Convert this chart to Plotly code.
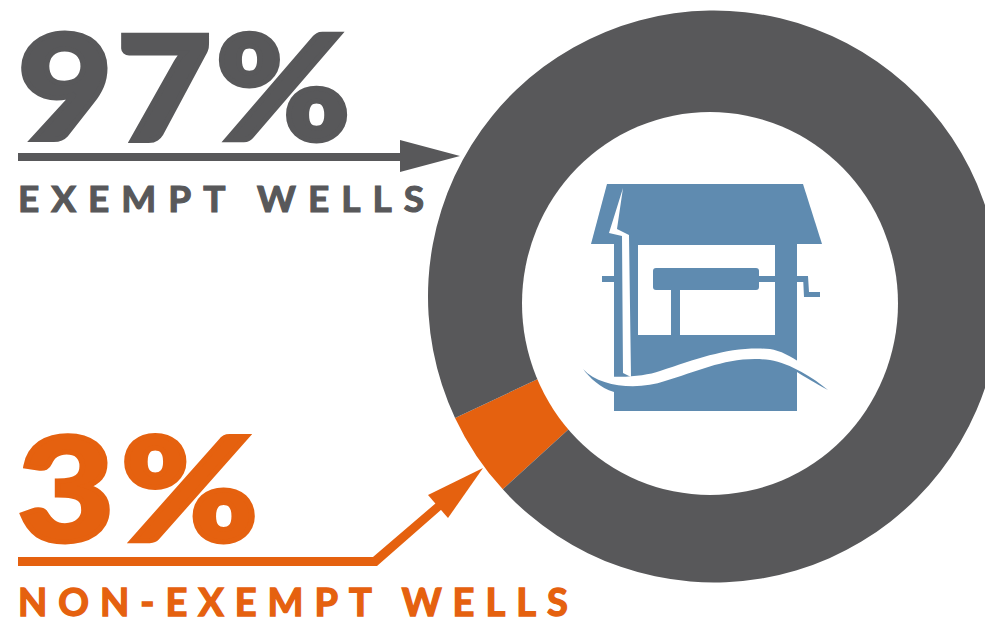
import plotly.graph_objects as go

# Drawn slice shares as measured on the picture (the printed labels say 97 / 3)
slice_names = ["Non-exempt wells", "Exempt wells"]
slice_values = [4.8, 95.2]
slice_colors = ["#E5610F", "#58585A"]
big_labels = ["97%", "3%"]
small_labels = ["EXEMPT WELLS", "NON-EXEMPT WELLS"]
GREY, ORANGE, BLUE = "#58585A", "#E5610F", "#5F8BB0"

W, H = 1004, 622
def px(x): return x / W
def py(y): return 1 - y / H

def path(*cmds):
    out = []
    for c in cmds:
        if isinstance(c, str):
            out.append(c)
        else:
            out.append(f"{px(c[0]):.5f},{py(c[1]):.5f}")
    return " ".join(out)

def shape(p, color):
    return dict(type="path", xref="paper", yref="paper", path=p, fillcolor=color,
                line=dict(width=0), layer="above")

def poly(pts, color):
    cmds = ["M", pts[0]]
    for q in pts[1:]:
        cmds += ["L", q]
    cmds.append("Z")
    return shape(path(*cmds), color)

def rect(x0, y0, x1, y1, color):
    return poly([(x0, y0), (x1, y0), (x1, y1), (x0, y1)], color)

fig = go.Figure(go.Pie(
    labels=slice_names, values=slice_values, sort=False, direction="clockwise",
    rotation=227.6, hole=0.6, marker=dict(colors=slice_colors, line=dict(width=0)),
    textinfo="none", hoverinfo="label", showlegend=False,
    domain=dict(x=[428 / W, 1000 / W], y=[py(583), py(10)]),
))

shapes = [
    # white centre (slightly off-centre in the reference)
    dict(type="circle", xref="paper", yref="paper", x0=px(522), x1=px(898),
         y0=py(495), y1=py(112), fillcolor="white", line=dict(width=0), layer="above"),
    # roof and body
    poly([(607, 184), (803, 184), (822, 244), (591, 244)], BLUE),
    rect(614, 244, 797, 411, BLUE),
    rect(638, 245, 775, 335, "white"),
    rect(671, 288, 680, 336, BLUE),
    # axle and crank
    rect(602, 276, 638, 282, BLUE),
    rect(759, 276, 808, 282, BLUE),
    poly([(803, 276), (808, 276), (809, 292), (820, 292), (820, 297), (804, 297)], BLUE),
    # roller with rounded corners
    shape(path("M", (656, 268), "L", (756, 268), "Q", (759, 268), (759, 271), "L", (759, 287),
               "Q", (759, 290), (756, 290), "L", (656, 290), "Q", (653, 290), (653, 287),
               "L", (653, 271), "Q", (653, 268), (656, 268), "Z"), BLUE),
    # lightning-shaped slit
    poly([(623, 188), (609, 233), (622, 236), (623, 373), (631, 377), (629, 235), (617, 229)], "white"),
    # white wave band
    shape(path("M", (583, 369), "C", (600, 380), (640, 378), (660, 371), "C", (700, 358), (730, 346), (770, 349),
               "C", (790, 352), (815, 372), (828, 390), "L", (745, 385),
               "L", (614, 392), "C", (600, 390), (590, 380), (583, 369), "Z"), "white"),
    # lower wave tail
    shape(path("M", (583, 369), "C", (600, 388), (640, 390), (665, 381), "C", (700, 371), (730, 355), (770, 360),
               "C", (790, 363), (815, 379), (828, 390), "C", (815, 383), (805, 377), (797, 372),
               "L", (797, 411), "L", (614, 411), "L", (614, 392), "C", (600, 388), (590, 378), (583, 369), "Z"), BLUE),
    # grey arrow
    rect(18, 153, 405, 161, GREY),
    poly([(400, 140), (460, 156), (400, 172)], GREY),
    # orange arrow
    shape(path("M", (18, 557), "L", (373, 557), "L", (436, 503), "L", (442, 509), "L", (377, 566), "L", (18, 566), "Z"), ORANGE),
    poly([(428, 495), (483, 468), (448, 518)], ORANGE),
]

def text(x, y, s, size, color, weight):
    return dict(x=px(x), y=py(y), xref="paper", yref="paper", text=s, showarrow=False,
                xanchor="left", yanchor="middle", align="left",
                font=dict(family="Lato, Inter, Liberation Sans", size=size, color=color, weight=weight))

annotations = [
    text(16, 85, big_labels[0], 144, GREY, 900),
    text(16, 485, big_labels[1], 144, ORANGE, 900),
    text(16, 198, small_labels[0], 37, GREY, 700),
    text(16, 601, small_labels[1], 38, ORANGE, 700),
]

fig.update_layout(width=W, height=H, margin=dict(l=0, r=0, t=0, b=0), autosize=False,
                  paper_bgcolor="white", plot_bgcolor="white", showlegend=False,
                  shapes=shapes, annotations=annotations)

post = """
document.documentElement.style.overflow='hidden';
document.body.style.margin='0';
document.body.style.overflow='hidden';
var look={'97%':[4,5,1.13],'3%':[6,5,1.15],'EXEMPT WELLS':[12,1.2,1],'NON-EXEMPT WELLS':[11,1.4,1]};
document.querySelectorAll('.annotation-text').forEach(function(t){
  var k=look[t.textContent.trim()];
  if(k){ t.style.letterSpacing=k[0]+'px'; t.style.strokeWidth=k[1]+'px';
         t.style.stroke=t.style.fill; t.style.strokeLinejoin='miter';
         if(k[2]!==1){ var x0=parseFloat(t.getAttribute('x'))||0;
           t.setAttribute('transform','translate('+x0+',0) scale('+k[2]+',1) translate('+(-x0)+',0)'); } }
});
"""
fig.write_html("out.html", post_script=post, config=dict(displayModeBar=False))
